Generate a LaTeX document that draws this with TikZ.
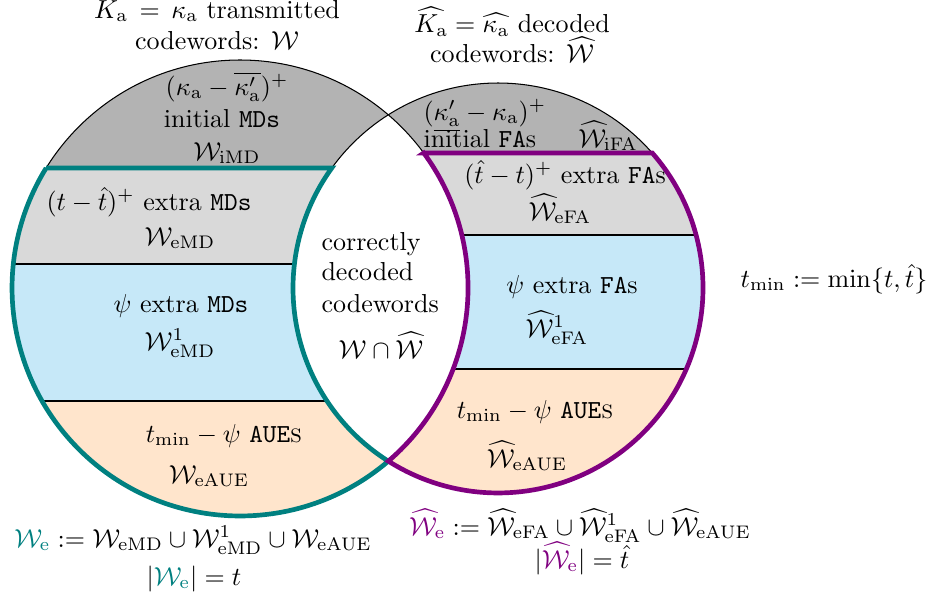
\documentclass[tikz,border=0pt]{standalone}
\usepackage{amsmath}
\definecolor{dgray}{RGB}{179,179,179}
\definecolor{lgray}{RGB}{217,217,217}
\definecolor{lblue}{RGB}{198,232,248}
\definecolor{lpeach}{RGB}{255,229,204}
\definecolor{myteal}{RGB}{0,128,128}
\definecolor{mypurple}{RGB}{128,0,128}
\begin{document}
\begin{tikzpicture}[x=0.3846pt,y=-0.3846pt,
  txt/.style={inner sep=0pt, anchor=base},
  txtw/.style={inner sep=0pt, anchor=base west},
  thinln/.style={line width=0.4pt},
  border/.style={line width=1.8pt}]
\useasboundingbox (0,0) rectangle (936,598);
\coordinate (cL) at (240,288);
\coordinate (cR) at (498,288);
\def\rL{87.69pt}
\def\rR{78.84pt}
% left bands
\begin{scope}
\clip (cL) circle[radius=\rL];
\fill[dgray] (0,0) rectangle (936,168);
\fill[lgray] (0,168) rectangle (936,264);
\fill[lblue] (0,264) rectangle (936,401);
\fill[lpeach] (0,401) rectangle (936,598);
\draw[thinln] (0,168) -- (936,168) (0,264) -- (936,264) (0,401) -- (936,401);
\end{scope}
% right bands
\begin{scope}
\clip (cR) circle[radius=\rR];
\fill[dgray] (0,0) rectangle (936,153);
\fill[lgray] (0,153) rectangle (936,235);
\fill[lblue] (0,235) rectangle (936,369);
\fill[lpeach] (0,369) rectangle (936,598);
\draw[thinln] (0,153) -- (936,153) (0,235) -- (936,235) (0,369) -- (936,369);
\end{scope}
% white lens
\begin{scope}
\clip (cL) circle[radius=\rL];
\fill[white] (cR) circle[radius=\rR];
\end{scope}
\draw[thinln] (cL) circle[radius=\rL];
\draw[thinln] (cR) circle[radius=\rR];
% thick borders
\draw[border, myteal] (46.1,168) -- (331.8,168)
  arc[start angle=144.17, end angle=237.65, radius=\rR]
  arc[start angle=-49.43, end angle=-211.75, radius=\rL] -- cycle;
\draw[border, mypurple] (423.7,153) -- (652.3,153)
  arc[start angle=41.18, end angle=-122.35, radius=\rR]
  arc[start angle=-49.43, end angle=36.31, radius=\rL] -- cycle;
% top labels
\node[txt] (tl1) at (217,18) {$K_{\mathrm{a}} \,=\, \kappa_{\mathrm{a}}$ transmitted};
\node[txt] (tl2) at (217,50) {codewords: $\mathcal{W}$};
\node[txt] (tr1) at (512,33) {$\widehat{K_{\mathrm{a}}} = \widehat{\kappa_{\mathrm{a}}}$ decoded};
\node[txt] (tr2) at (512,63) {codewords: $\widehat{\mathcal{W}}$};
% left dark
\node[txt] (ld1) at (227,95) {$(\kappa_{\mathrm a}-\overline{\kappa'_{\mathrm a}})^+$};
\node[txt] (ld2) at (222,127) {initial \texttt{MDs}};
\node[txt] (ld3) at (227,160) {$\mathcal{W}_{\mathrm{iMD}}$};
% right dark
\node[txtw] (rd1) at (423,120) {$(\underline{\kappa'_{\mathrm a}}-\kappa_{\mathrm a})^+$};
\node[txtw] (rd2) at (423,147) {initial \texttt{FA}s};
\node[txt] (rd3) at (608,147) {$\widehat{\mathcal{W}}_{\mathrm{iFA}}$};
% left bands text
\node[txt] (lg1) at (149,210) {$(t-\hat t)^+$ extra \texttt{MDs}};
\node[txt] (lg2) at (180,245) {$\mathcal{W}_{\mathrm{eMD}}$};
\node[txt] (lb1) at (181,312) {$\psi$ extra \texttt{MDs}};
\node[txt] (lb2) at (180,350) {$\mathcal{W}^1_{\mathrm{eMD}}$};
\node[txt] (lp1) at (224,442) {$t_{\min}-\psi$ \texttt{AUE}\textsc{s}};
\node[txt] (lp2) at (209,483) {$\mathcal{W}_{\mathrm{eAUE}}$};
% right bands text
\node[txt] (rg1) at (565,183) {$(\hat t-t)^+$ extra \texttt{FA}s};
\node[txt] (rg2) at (560,220) {$\widehat{\mathcal{W}}_{\mathrm{eFA}}$};
\node[txt] (rb1) at (572,293) {$\psi$ extra \texttt{FA}s};
\node[txt] (rb2) at (557,337) {$\widehat{\mathcal{W}}^1_{\mathrm{eFA}}$};
\node[txt] (rp1) at (535,418) {$t_{\min}-\psi$ \texttt{AUE}\textsc{s}};
\node[txt] (rp2) at (527,467) {$\widehat{\mathcal{W}}_{\mathrm{eAUE}}$};
% lens
\node[txtw] (c1) at (321,250) {correctly};
\node[txtw] (c2) at (321,280) {decoded};
\node[txtw] (c3) at (321,312) {codewords};
\node[txt] (c4) at (381,358) {$\mathcal{W}\cap\widehat{\mathcal{W}}$};
% bottom
\node[txt] (bl1) at (193,547) {$\textcolor{myteal}{\mathcal{W}_{\mathrm e}} := \mathcal{W}_{\mathrm{eMD}}\cup\mathcal{W}^1_{\mathrm{eMD}}\cup\mathcal{W}_{\mathrm{eAUE}}$};
\node[txt] (bl2) at (194,585) {$|\textcolor{myteal}{\mathcal{W}_{\mathrm e}}| = t$};
\node[txt] (br1) at (580,535) {$\textcolor{mypurple}{\widehat{\mathcal{W}}_{\mathrm e}} := \widehat{\mathcal{W}}_{\mathrm{eFA}}\cup\widehat{\mathcal{W}}^1_{\mathrm{eFA}}\cup\widehat{\mathcal{W}}_{\mathrm{eAUE}}$};
\node[txt] (br2) at (582,568) {$|\textcolor{mypurple}{\widehat{\mathcal{W}}_{\mathrm e}}| = \hat t$};
\node[txt] (tm) at (834,287) {$t_{\min} := \min\{t,\hat t\}$};
\end{tikzpicture}
\end{document}
